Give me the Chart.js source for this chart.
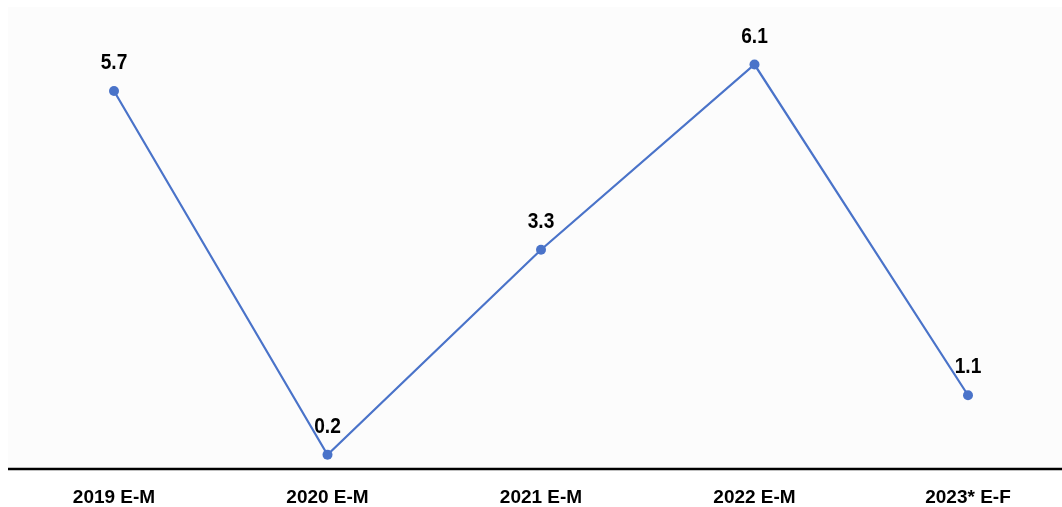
<!DOCTYPE html>
<html>
<head>
<meta charset="utf-8">
<script src="https://cdn.jsdelivr.net/npm/chart.js@4/dist/chart.umd.min.js"></script>
<style>
html,body{margin:0;padding:0;background:#ffffff;}
#wrap{width:1062px;height:507px;position:relative;}
</style>
</head>
<body>
<div id="wrap"><canvas id="c" width="1062" height="507"></canvas></div>
<script>
const categories = ["2019 E-M", "2020 E-M", "2021 E-M", "2022 E-M", "2023* E-F"];
const values = [5.7, 0.2, 3.3, 6.1, 1.1];
const valueLabels = ["5.7", "0.2", "3.3", "6.1", "1.1"];

const FONT = "'Liberation Sans', Arial, sans-serif";

const decor = {
  id: 'decor',
  beforeDraw(chart) {
    const ctx = chart.ctx;
    const y0 = chart.scales.y.getPixelForValue(0);
    ctx.save();
    ctx.fillStyle = '#fcfcfc';
    ctx.fillRect(8, 7, 1054, y0 - 7);
    ctx.restore();
  },
  afterDatasetsDraw(chart) {
    const ctx = chart.ctx;
    const y0 = chart.scales.y.getPixelForValue(0);
    ctx.save();
    ctx.strokeStyle = '#000000';
    ctx.lineWidth = 2.5;
    ctx.beginPath();
    ctx.moveTo(8, y0 + 1);
    ctx.lineTo(1062, y0 + 1);
    ctx.stroke();
    const meta = chart.getDatasetMeta(0);
    ctx.fillStyle = '#000000';
    ctx.font = "bold 22px " + FONT;
    ctx.textAlign = 'center';
    ctx.textBaseline = 'middle';
    meta.data.forEach((pt, i) => {
      ctx.save();
      ctx.translate(pt.x, pt.y - 28);
      ctx.scale(0.87, 1);
      ctx.fillText(valueLabels[i], 0, 0);
      ctx.restore();
    });
    ctx.restore();
  }
};

new Chart(document.getElementById('c'), {
  type: 'line',
  data: {
    labels: categories,
    datasets: [{
      data: values,
      borderColor: '#4a73c9',
      backgroundColor: '#4a73c9',
      borderWidth: 2.2,
      pointRadius: 5,
      pointBackgroundColor: '#4a73c9',
      pointBorderWidth: 0,
      tension: 0,
      fill: false
    }]
  },
  options: {
    responsive: false,
    animation: false,
    layout: { padding: { left: 114, right: 94, top: 0, bottom: 0 } },
    plugins: { legend: { display: false }, tooltip: { enabled: false } },
    scales: {
      x: {
        offset: false,
        grid: { display: false, drawTicks: false },
        border: { display: false },
        ticks: { color: '#000', font: { family: FONT, size: 19, weight: 'bold' }, padding: 18, maxRotation: 0, autoSkip: false },
        afterFit(scale) { scale.height = 39; }
      },
      y: {
        display: false,
        min: 0,
        max: 7
      }
    }
  },
  plugins: [decor]
});
</script>
</body>
</html>
